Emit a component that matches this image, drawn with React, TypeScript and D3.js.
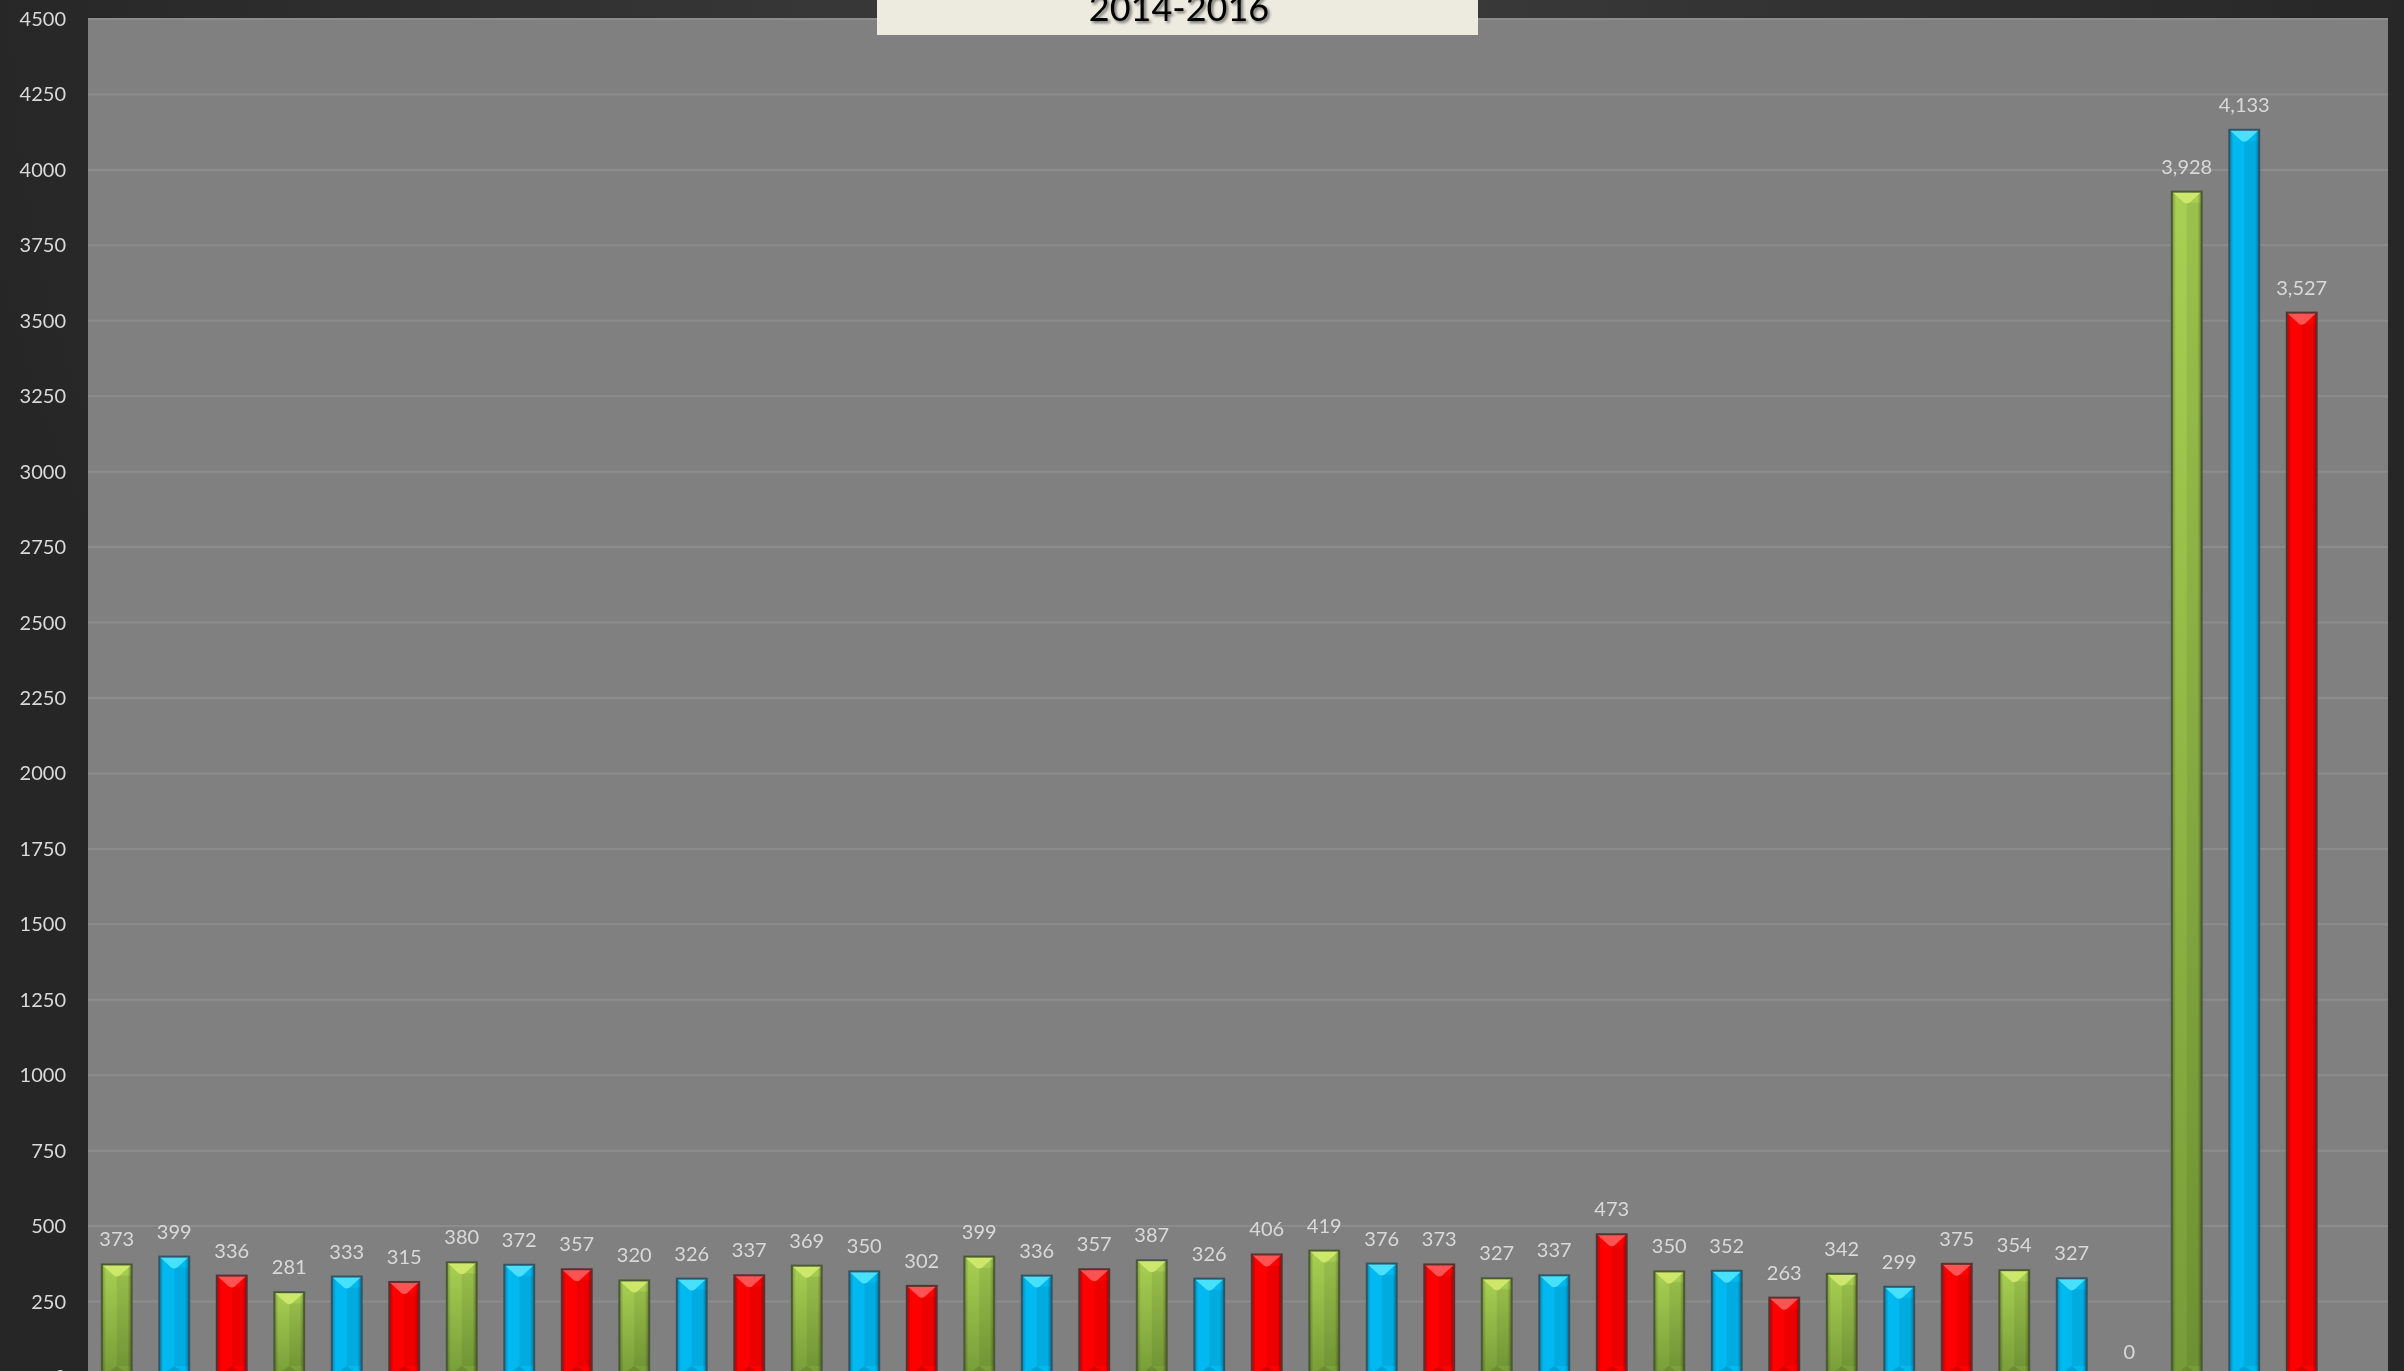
import React, { useEffect, useRef } from 'react';
import * as d3 from 'd3';

// values, left to right (last slot is an empty cell)
const barValues: (number | null)[] = [
  373, 399, 336, 281, 333, 315, 380, 372, 357, 320, 326, 337, 369, 350, 302,
  399, 336, 357, 387, 326, 406, 419, 376, 373, 327, 337, 473, 350, 352, 263,
  342, 299, 375, 354, 327, 0, 3928, 4133, 3527, null,
];

// bars cycle through these three colours
const seriesColors = ['green', 'blue', 'red'];

const yTicks = [0, 250, 500, 750, 1000, 1250, 1500, 1750, 2000, 2250, 2500, 2750, 3000, 3250, 3500, 3750, 4000, 4250, 4500];

const titleText = '2014-2016';

const palette: Record<string, { base: string; light: string; dark: string; stroke: string }> = {
  green: { base: 'url(#greenFill)', light: '#d2ea6e', dark: '#5d7a2c', stroke: '#4b5a32' },
  blue: { base: '#00b9f1', light: '#4fe6ff', dark: '#0088b8', stroke: '#2f5566' },
  red: { base: '#ff0000', light: '#ff5c5c', dark: '#b80000', stroke: '#5a3030' },
};

const App: React.FC = () => {
  const svgRef = useRef<SVGSVGElement | null>(null);

  useEffect(() => {
    const width = 2404;
    const height = 1371;
    const plot = { left: 88, right: 2388, top: 19, bottom: 1377 };

    const svg = d3.select(svgRef.current)
      .attr('width', width)
      .attr('height', height);
    svg.selectAll('*').remove();

    const defs = svg.append('defs');

    const bg = defs.append('radialGradient')
      .attr('id', 'bgGrad')
      .attr('gradientUnits', 'userSpaceOnUse')
      .attr('cx', 1200).attr('cy', 0).attr('r', 1250);
    bg.append('stop').attr('offset', '0%').attr('stop-color', '#3e3e3e');
    bg.append('stop').attr('offset', '100%').attr('stop-color', '#262626');

    const green = defs.append('linearGradient')
      .attr('id', 'greenFill')
      .attr('x1', 0).attr('y1', 0).attr('x2', 0).attr('y2', 1);
    green.append('stop').attr('offset', '0%').attr('stop-color', '#a8d052');
    green.append('stop').attr('offset', '100%').attr('stop-color', '#769c38');

    const side = defs.append('linearGradient')
      .attr('id', 'sideShade')
      .attr('x1', 0).attr('y1', 0).attr('x2', 1).attr('y2', 0);
    side.append('stop').attr('offset', '0%').attr('stop-color', '#000').attr('stop-opacity', 0.28);
    side.append('stop').attr('offset', '14%').attr('stop-color', '#000').attr('stop-opacity', 0);
    side.append('stop').attr('offset', '86%').attr('stop-color', '#000').attr('stop-opacity', 0);
    side.append('stop').attr('offset', '100%').attr('stop-color', '#000').attr('stop-opacity', 0.32);

    const shadow = defs.append('filter')
      .attr('id', 'titleShadow')
      .attr('x', '-10%').attr('y', '-30%')
      .attr('width', '120%').attr('height', '160%');
    shadow.append('feGaussianBlur').attr('in', 'SourceAlpha').attr('stdDeviation', 1.5).attr('result', 'blur');
    shadow.append('feOffset').attr('in', 'blur').attr('dx', 2).attr('dy', 2).attr('result', 'off');
    shadow.append('feComponentTransfer').attr('in', 'off').attr('result', 'offA')
      .append('feFuncA').attr('type', 'linear').attr('slope', 0.55);
    const merge = shadow.append('feMerge');
    merge.append('feMergeNode').attr('in', 'offA');
    merge.append('feMergeNode').attr('in', 'SourceGraphic');

    svg.append('rect')
      .attr('width', width).attr('height', height)
      .attr('fill', 'url(#bgGrad)');

    const x = d3.scaleBand<number>()
      .domain(barValues.map((_, i) => i))
      .range([plot.left, plot.right])
      .paddingInner(0.48)
      .paddingOuter(0.24);

    const y = d3.scaleLinear()
      .domain([0, 4500])
      .range([plot.bottom, plot.top]);

    svg.append('rect')
      .attr('x', plot.left).attr('y', plot.top)
      .attr('width', plot.right - plot.left)
      .attr('height', plot.bottom - plot.top)
      .attr('fill', '#808080');

    svg.append('g')
      .selectAll('line')
      .data(yTicks.filter(t => t > 0))
      .enter()
      .append('line')
      .attr('x1', plot.left).attr('x2', plot.right)
      .attr('y1', d => y(d)).attr('y2', d => y(d))
      .attr('stroke', '#8c8c8c')
      .attr('stroke-width', 2);

    svg.append('g')
      .selectAll('text')
      .data(yTicks)
      .enter()
      .append('text')
      .attr('x', 66)
      .attr('y', d => y(d))
      .attr('dy', '.35em')
      .attr('text-anchor', 'end')
      .style('font-family', 'Lato, "Open Sans", sans-serif')
      .style('font-size', '20px')
      .style('fill', '#d9d9d9')
      .text(d => d);

    const bw = x.bandwidth();
    const bevel = 11;
    const fmt = d3.format(',');

    const bars = svg.append('g')
      .selectAll('g')
      .data(barValues.map((v, i) => ({ v, i })).filter(d => d.v !== null))
      .enter()
      .append('g');

    bars.each(function (d) {
      const v = d.v as number;
      const g = d3.select(this);
      const x0 = x(d.i) as number;
      const top = y(v);
      const h = plot.bottom - top;
      const c = palette[seriesColors[d.i % 3]];
      if (h > 0) {
        g.append('rect')
          .attr('x', x0).attr('y', top).attr('width', bw).attr('height', h)
          .attr('fill', c.base);
        // right face slightly darker
        g.append('rect')
          .attr('x', x0 + bw / 2).attr('y', top + bevel)
          .attr('width', bw / 2).attr('height', Math.max(0, h - 2 * bevel))
          .attr('fill', '#000').attr('opacity', 0.07);
        g.append('rect')
          .attr('x', x0).attr('y', top).attr('width', bw).attr('height', h)
          .attr('fill', 'url(#sideShade)');
        g.append('path')
          .attr('d', `M${x0},${top}L${x0 + bw},${top}L${x0 + bw / 2 + 3},${top + bevel}Q${x0 + bw / 2},${top + bevel + 2} ${x0 + bw / 2 - 3},${top + bevel}Z`)
          .attr('fill', c.light).attr('opacity', 0.9);
        g.append('path')
          .attr('d', `M${x0},${plot.bottom}L${x0 + bw},${plot.bottom}L${x0 + bw / 2},${plot.bottom - bevel}Z`)
          .attr('fill', c.dark).attr('opacity', 0.5);
        g.append('rect')
          .attr('x', x0).attr('y', top).attr('width', bw).attr('height', h)
          .attr('fill', 'none')
          .attr('stroke', c.stroke)
          .attr('stroke-width', 2);
      }
      g.append('text')
        .attr('x', x0 + bw / 2)
        .attr('y', top - 18)
        .attr('text-anchor', 'middle')
        .style('font-family', 'Lato, "Open Sans", sans-serif')
        .style('font-size', '20px')
        .style('fill', '#d9d9d9')
        .text(fmt(v));
    });

    // title box, cut off at the top of the picture
    svg.append('rect')
      .attr('x', 877).attr('y', -5)
      .attr('width', 601).attr('height', 40)
      .attr('fill', '#edebe0');

    svg.append('text')
      .attr('x', 1179)
      .attr('y', 21)
      .attr('text-anchor', 'middle')
      .style('font-family', 'Lato, "Open Sans", sans-serif')
      .style('font-size', '36px')
      .style('fill', '#000')
      .attr('filter', 'url(#titleShadow)')
      .text(titleText);
  }, []);

  return <svg ref={svgRef} style={{ position: 'fixed', left: 0, top: 0, display: 'block' }}></svg>;
};

export default App;
